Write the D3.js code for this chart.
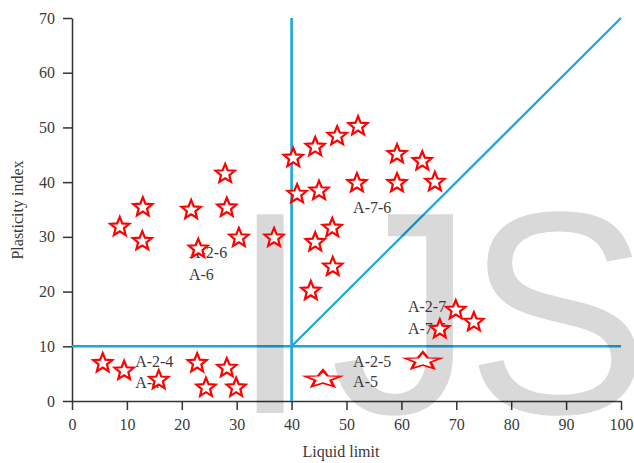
<!DOCTYPE html>
<html lang="en">
<head>
<meta charset="utf-8">
<script src="https://d3js.org/d3.v7.min.js"></script>
<style>
  body { margin: 0; background: #fff; }
  .axis text { font-family: "Liberation Serif", "Times New Roman", serif; font-size: 16px; fill: #3a3a3a; }
  .axis path, .axis line { stroke: #333; stroke-width: 1.5px; }
</style>
</head>
<body>
<div class="chart"></div>
<script>
var w = 634, h = 463;

// samples: liquid limit / plasticity index
var liquidLimit = [8.7, 12.9, 12.8, 21.7, 23.0, 27.9, 28.2, 30.4, 36.8, 40.3, 41.0, 44.3,
                   45.0, 44.3, 48.3, 47.4, 47.5, 43.5, 52.1, 51.9, 59.2, 59.2, 63.8, 66.1,
                   69.9, 73.2, 67.0, 5.6, 9.5, 15.8, 22.8, 24.4, 28.2, 29.9];
var plasticityIndex = [32.0, 35.6, 29.4, 35.1, 28.0, 41.7, 35.5, 30.0, 30.0, 44.6, 38.0, 46.6,
                       38.6, 29.2, 48.6, 31.8, 24.7, 20.3, 50.4, 40.0, 45.3, 40.0, 44.0, 40.2,
                       16.8, 14.6, 13.3, 7.1, 5.7, 4.0, 7.1, 2.6, 6.2, 2.6];
// the two squashed stars
var flatLL = [45.7, 63.9];
var flatPI = [4.0, 7.3];

// group labels
var groupNames = ["A-7-6", "A-2-6", "A-6", "A-2-4", "A-4", "A-2-7", "A-7-5", "A-2-5", "A-5"];
var groupLL = [51.2, 21.3, 21.3, 11.5, 11.5, 61.2, 61.2, 51.2, 51.2];
var groupPI = [34.4, 26.1, 22.1, 6.2, 2.4, 16.3, 12.2, 6.2, 2.6];

// boundary lines
var lineX1 = [40, 0, 40];
var lineY1 = [0, 10, 10];
var lineX2 = [40, 100, 100];
var lineY2 = [70, 10, 70];

var xTicks = [0, 10, 20, 30, 40, 50, 60, 70, 80, 90, 100];
var yTicks = [0, 10, 20, 30, 40, 50, 60, 70];

var svg = d3.select(".chart").append("svg")
  .attr("width", w)
  .attr("height", h);

var x = d3.scaleLinear().domain([0, 100]).range([72, 621]);
var y = d3.scaleLinear().domain([0, 70]).range([401, 18]);

svg.append("g")
  .attr("class", "axis")
  .attr("transform", "translate(0,401)")
  .call(d3.axisBottom(x).tickValues(xTicks).tickSize(9).tickSizeOuter(0).tickPadding(9));

svg.append("g")
  .attr("class", "axis")
  .attr("transform", "translate(72,0)")
  .call(d3.axisLeft(y).tickValues(yTicks).tickSize(9).tickSizeOuter(0).tickPadding(8));

svg.selectAll("line.bound")
  .data(lineX1)
  .enter().append("line")
  .attr("class", "bound")
  .attr("x1", function(d, i) { return x(lineX1[i]); })
  .attr("y1", function(d, i) { return y(lineY1[i]); })
  .attr("x2", function(d, i) { return x(lineX2[i]); })
  .attr("y2", function(d, i) { return y(lineY2[i]); })
  .attr("stroke", "#1aa6e0")
  .attr("stroke-width", function(d, i) { return i == 2 ? 2.2 : 2.6; });

// watermark, one letter at a time
var wm = svg.append("g")
  .attr("font-family", "Liberation Sans, Arial, sans-serif")
  .attr("font-size", 289)
  .attr("fill", "#000")
  .attr("fill-opacity", 0.15);
wm.append("text").attr("x", 230).attr("y", 413).text("I");
wm.append("text").attr("x", 330).attr("y", 413).text("J");
wm.append("text").attr("transform", "translate(466,413) scale(0.95,1)").text("S");

svg.selectAll("text.group")
  .data(groupNames)
  .enter().append("text")
  .attr("class", "group")
  .attr("x", function(d, i) { return x(groupLL[i]); })
  .attr("y", function(d, i) { return y(groupPI[i]); })
  .attr("font-family", "Liberation Serif, Times New Roman, serif")
  .attr("font-size", 16)
  .attr("fill", "#3a3a3a")
  .text(function(d) { return d; });

// star outline
var starPts = d3.range(10).map(function(i) {
  return [i * Math.PI / 5, i % 2 ? 4.4 : 10];
});
var star = d3.lineRadial().curve(d3.curveLinearClosed)(starPts);

svg.selectAll("path.star")
  .data(liquidLimit)
  .enter().append("path")
  .attr("class", "star")
  .attr("transform", function(d, i) { return "translate(" + x(d) + "," + (y(plasticityIndex[i]) + 1) + ")"; })
  .attr("d", star)
  .attr("fill", "#fff")
  .attr("stroke", "#ff0000")
  .attr("stroke-width", 2.2);

svg.selectAll("path.flat")
  .data(flatLL)
  .enter().append("path")
  .attr("class", "flat")
  .attr("transform", function(d, i) { return "translate(" + x(d) + "," + y(flatPI[i]) + ") scale(1.85,0.9)"; })
  .attr("d", star)
  .attr("fill", "#fff")
  .attr("stroke", "#ff0000")
  .attr("stroke-width", 1.6);

svg.append("text")
  .attr("transform", "translate(23,210) rotate(-90)")
  .attr("text-anchor", "middle")
  .attr("font-family", "Liberation Serif, Times New Roman, serif")
  .attr("font-size", 16)
  .attr("fill", "#3a3a3a")
  .text("Plasticity index");

svg.append("text")
  .attr("x", 341)
  .attr("y", 457)
  .attr("text-anchor", "middle")
  .attr("font-family", "Liberation Serif, Times New Roman, serif")
  .attr("font-size", 16)
  .attr("fill", "#3a3a3a")
  .text("Liquid limit");
</script>
</body>
</html>
